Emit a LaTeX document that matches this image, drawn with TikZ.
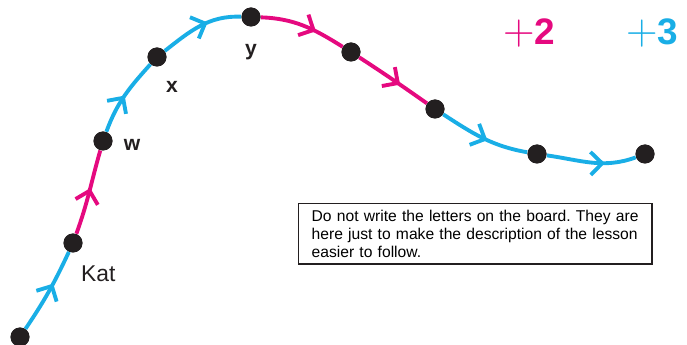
\documentclass[tikz,border=0pt]{standalone}
\usepackage{fontspec}
\setmainfont{Liberation Sans}
\usetikzlibrary{arrows.meta,positioning,decorations.markings}
\definecolor{hopBlue}{HTML}{19AEE6}
\definecolor{hopPink}{HTML}{E5097F}
\definecolor{hopInk}{HTML}{231F20}
\frenchspacing
\newcommand{\thinplus}{{\fontsize{27}{27}\selectfont$+$}}
\tikzset{
  hop/dot/.style={circle, fill=hopInk, inner sep=0pt, minimum size=3.8mm},
  hop/line/.style={line width=2.2pt, postaction={decorate},
    decoration={markings, mark=at position #1 with {\arrow{Straight Barb[length=2.3mm,width=4.6mm]}}}},
  hop/blue/.style={hop/line=#1, draw=hopBlue},
  hop/blue/.default=0.55,
  hop/pink/.style={hop/line=#1, draw=hopPink},
  hop/pink/.default=0.55,
  hop/name/.style={font=\bfseries\fontsize{12}{12}\selectfont, text=hopInk, inner sep=1pt},
  hop/step/.style={font=\bfseries\fontsize{21}{21}\selectfont, inner sep=0pt},
  note/.style={draw=hopInk, thick, text width=6.55cm, align=left, inner xsep=0.26cm, inner ysep=3.5pt,
    font=\fontsize{8.9}{10.4}\selectfont}
}
\begin{document}
\begin{tikzpicture}[x=0.02cm, y=0.02cm]
\useasboundingbox (0,0) rectangle (687,345);
% stops on the track
\node[hop/dot] (p0)  at (20,8) {};
\node[hop/dot] (kat) at (73,102) {};
\node[hop/dot] (w)   at (103,204) {};
\node[hop/dot] (x)   at (157,288) {};
\node[hop/dot] (y)   at (251,328) {};
\node[hop/dot] (p5)  at (351,293) {};
\node[hop/dot] (p6)  at (435,236) {};
\node[hop/dot] (p7)  at (537,191) {};
\node[hop/dot] (p8)  at (645,191) {};
% jumps
\draw[hop/blue=0.6] (p0) to[out=56,in=-115] (kat);
\draw[hop/pink=0.55] (kat) to[out=70,in=-106] (w);
\draw[hop/blue=0.5] (w) to[out=70,in=-132] (x);
\draw[hop/blue=0.6] (x) to[out=38,in=178] (y);
\draw[hop/pink=0.65] (y) to[out=-2,in=148] (p5);
\draw[hop/pink=0.6] (p5) to[out=-33,in=145] (p6);
\draw[hop/blue=0.55] (p6) to[out=-33,in=170] (p7);
\draw[hop/blue=0.65] (p7) to[out=-8,in=200] (p8);
% redraw stops on top
\foreach \s in {p0,kat,w,x,y,p5,p6,p7,p8}
  \fill[hopInk] (\s) circle[radius=9.5];
% labels
\node[font=\fontsize{13}{13}\selectfont, text=hopInk, below right=0.2cm and -0.1cm of kat] (katlbl) {Kat};
\node[hop/name, right=0.18cm of w, yshift=-2pt] (wlbl) {w};
\node[hop/name, below right=0.3cm and 0.0cm of x] (xlbl) {x};
\node[hop/name, below=0.3cm of y] (ylbl) {y};
\node[hop/step, text=hopPink] (plus2) at (529,312) {\thinplus2};
\node[hop/step, text=hopBlue] (plus3) at (652,312) {\thinplus3};
\node[note, anchor=north west] (hint) at (298,142) {Do not write the letters on the board. They are here just to make the description of the lesson easier to follow.};
\end{tikzpicture}
\end{document}
